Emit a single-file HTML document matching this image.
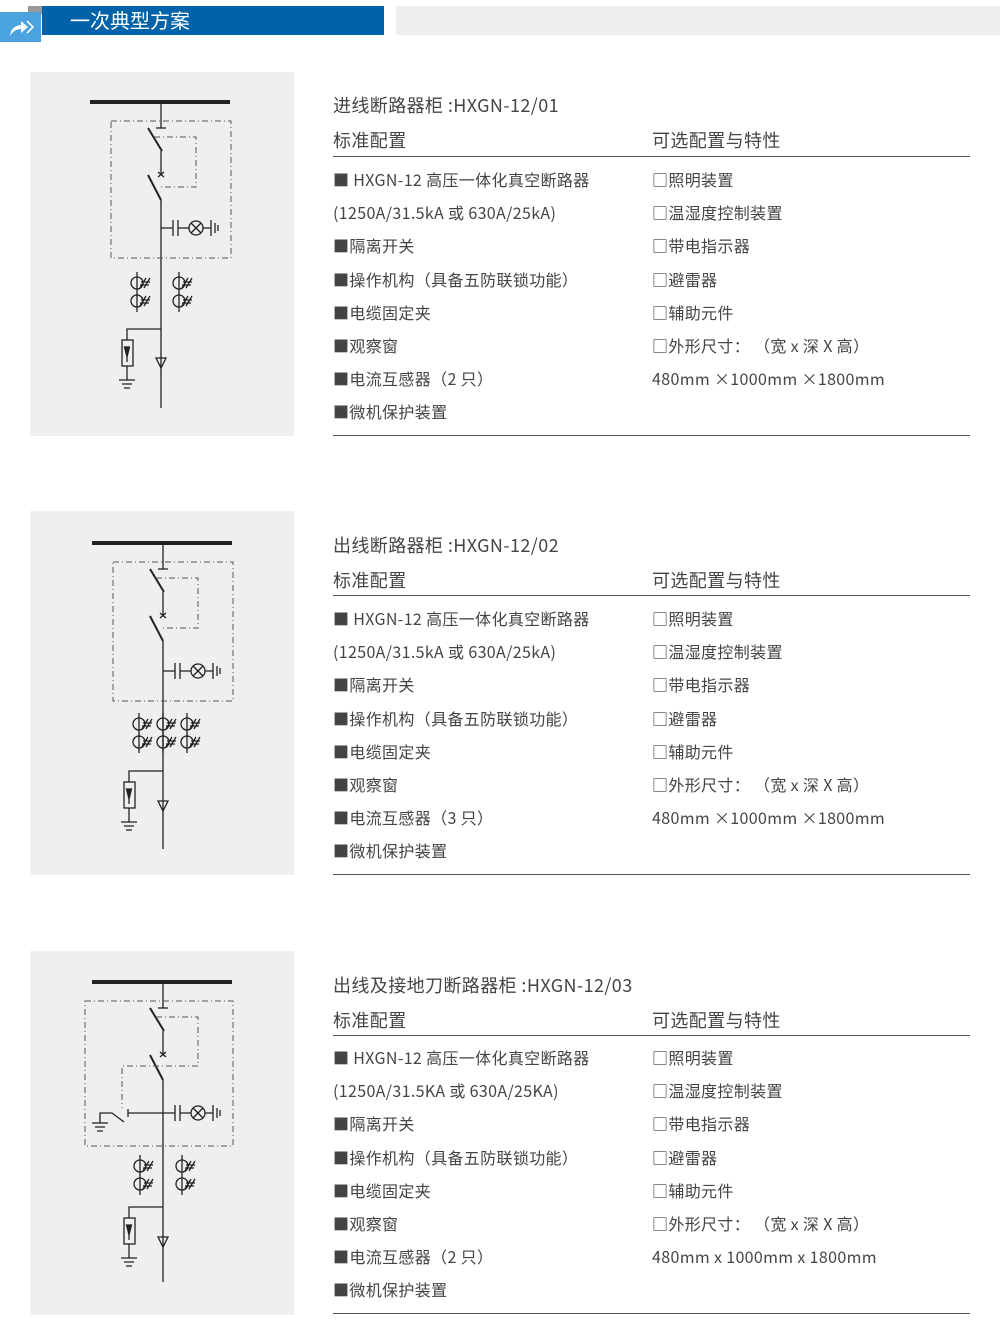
<!DOCTYPE html>
<html><head><meta charset="utf-8">
<style>
body{margin:0;width:1000px;height:1320px;background:#fff;position:relative;overflow:hidden;font-family:"Noto Sans CJK SC","Liberation Sans",sans-serif;color:#444}
.a{position:absolute;white-space:nowrap}
.panel{position:absolute;left:30px;width:264px;height:364px;background:#efefef}
.t{font-size:18px;color:#444;line-height:24px;letter-spacing:0.4px}
.i{font-size:16px;color:#444;letter-spacing:0.35px}
.hl{position:absolute;left:333px;width:637px;height:1px;background:#555}
</style></head><body>
<div class="a" style="left:42px;top:6px;width:342px;height:29px;background:#0062a8"></div>
<div class="a" style="left:28px;top:6px;width:14px;height:8px;background:#9a9a9a"></div>
<div class="a" style="left:0;top:12px;width:41px;height:30px;background:#4aa3df"></div>
<svg class="a" style="left:0;top:12px" width="41" height="30"><path d="M10 24 Q11 14 21 13 L21 9 L28 15 L21 21 L21 17 Q14 17 10 24Z" fill="#fff"/><path d="M27 9 L33 15 L27 21" stroke="#fff" stroke-width="1.6" fill="none"/></svg>
<div class="a" style="left:70px;top:6px;font-size:20px;color:#fff;line-height:28px">一次典型方案</div>
<div class="a" style="left:396px;top:6px;width:604px;height:29px;background:#eeeeee"></div>

<div class="panel" style="top:72px"></div>
<div class="panel" style="top:511px"></div>
<div class="panel" style="top:951px"></div>

<svg class="a" style="left:0;top:0" width="300" height="1320" fill="none" stroke="#222" stroke-width="1.3">
<defs>
<g id="ct"><line x1="0" y1="-11" x2="0" y2="29"/><circle cx="0" cy="0" r="6"/><circle cx="0" cy="18" r="6"/>
<path d="M3 5 L9 -5 M7 5 L13 -5 M4 -1 L13 -1 M3 2 L12 2 M3 23 L9 13 M7 23 L13 13 M4 17 L13 17 M3 20 L12 20"/></g>
<g id="cap"><path d="M0 0 H12 M12 -8 V8 M17 -8 V8 M17 0 H28 M42 0 H50 M50 -8 V8 M54 -5 V5 M57 -3 V3"/><circle cx="35" cy="0" r="7"/><path d="M30 -5 L40 5 M40 -5 L30 5"/></g>
<g id="gnd"><path d="M-8 0 H8 M-5 4 H5 M-3 8 H3"/></g>
<g id="arr"><path d="M0 0 H-34 V11 M-34 37 V51"/><rect x="-39" y="11" width="11" height="26"/><path d="M-36.5 18 H-31.5 L-34 28Z" fill="#222"/><path d="M-34 28 V33"/></g>
<g id="top"><line x1="0" y1="0" x2="0" y2="26"/><line x1="-5" y1="26" x2="5" y2="26"/><line x1="-13" y1="26" x2="1" y2="49" stroke-width="2"/><line x1="0" y1="49" x2="0" y2="72"/><path d="M-3 70 L3 75 M3 70 L-3 75"/><line x1="-13" y1="73" x2="0" y2="98" stroke-width="2"/></g>
</defs>
<g transform="translate(161,102)">
<line x1="-71" y1="0" x2="69" y2="0" stroke-width="4"/>
<use href="#top"/><line x1="0" y1="98" x2="0" y2="306"/>
<g stroke-dasharray="6 3 1 3" stroke="#555" stroke-width="1"><rect x="-50" y="19" width="120" height="137"/><path d="M-7 35 H35 V85 H-1"/></g>
<use href="#cap" transform="translate(0,126)"/>
<use href="#ct" transform="translate(-24,181)"/><use href="#ct" transform="translate(18,181)"/>
<use href="#arr" transform="translate(0,227)"/><use href="#gnd" transform="translate(-34,278)"/>
<path d="M-5 256 H5 L0 266Z"/>
</g>
<g transform="translate(163,543)">
<line x1="-71" y1="0" x2="69" y2="0" stroke-width="4"/>
<use href="#top"/><line x1="0" y1="98" x2="0" y2="306"/>
<g stroke-dasharray="6 3 1 3" stroke="#555" stroke-width="1"><rect x="-50" y="19" width="120" height="139"/><path d="M-7 35 H35 V85 H-1"/></g>
<use href="#cap" transform="translate(0,128)"/>
<use href="#ct" transform="translate(-24,181)"/><use href="#ct" transform="translate(0,181)"/><use href="#ct" transform="translate(24,181)"/>
<use href="#arr" transform="translate(0,228)"/><use href="#gnd" transform="translate(-34,279)"/>
<path d="M-5 258 H5 L0 268Z"/>
</g>
<g transform="translate(163,982)">
<line x1="-71" y1="0" x2="69" y2="0" stroke-width="4"/>
<use href="#top"/><line x1="0" y1="98" x2="0" y2="300"/>
<g stroke-dasharray="6 3 1 3" stroke="#555" stroke-width="1"><rect x="-78" y="19" width="148" height="145"/><path d="M-7 35 H35 V84 H-41 V126"/></g>
<use href="#cap" transform="translate(0,131)"/>
<path d="M0 131 H-35 M-35 127 V135 M-39 140 L-51 131 M-51 131 H-63 V141"/>
<use href="#gnd" transform="translate(-63,141)"/>
<use href="#ct" transform="translate(-23,184)"/><use href="#ct" transform="translate(19,184)"/>
<use href="#arr" transform="translate(0,225)"/><use href="#gnd" transform="translate(-34,276)"/>
<path d="M-5 255 H5 L0 265Z"/>
</g>
</svg>

<div class="a t" style="left:333px;top:93px">进线断路器柜 :HXGN-12/01</div>
<div class="a t" style="left:333px;top:128px">标准配置</div>
<div class="a t" style="left:652px;top:128px">可选配置与特性</div>
<div class="hl" style="top:156px"></div>
<div class="a i" style="left:333px;top:163px;line-height:33.2px">■ HXGN-12 高压一体化真空断路器<br>(1250A/31.5kA 或 630A/25kA)<br>■隔离开关<br>■操作机构（具备五防联锁功能）<br>■电缆固定夹<br>■观察窗<br>■电流互感器（2 只）<br>■微机保护装置</div>
<div class="a i" style="left:652px;top:163px;line-height:33.2px">□照明装置<br>□温湿度控制装置<br>□带电指示器<br>□避雷器<br>□辅助元件<br>□外形尺寸： （宽 x 深 X 高）<br>480mm ×1000mm ×1800mm</div>
<div class="hl" style="top:435px"></div>

<div class="a t" style="left:333px;top:533px">出线断路器柜 :HXGN-12/02</div>
<div class="a t" style="left:333px;top:568px">标准配置</div>
<div class="a t" style="left:652px;top:568px">可选配置与特性</div>
<div class="hl" style="top:595px"></div>
<div class="a i" style="left:333px;top:602px;line-height:33.2px">■ HXGN-12 高压一体化真空断路器<br>(1250A/31.5kA 或 630A/25kA)<br>■隔离开关<br>■操作机构（具备五防联锁功能）<br>■电缆固定夹<br>■观察窗<br>■电流互感器（3 只）<br>■微机保护装置</div>
<div class="a i" style="left:652px;top:602px;line-height:33.2px">□照明装置<br>□温湿度控制装置<br>□带电指示器<br>□避雷器<br>□辅助元件<br>□外形尺寸： （宽 x 深 X 高）<br>480mm ×1000mm ×1800mm</div>
<div class="hl" style="top:874px"></div>

<div class="a t" style="left:333px;top:973px">出线及接地刀断路器柜 :HXGN-12/03</div>
<div class="a t" style="left:333px;top:1008px">标准配置</div>
<div class="a t" style="left:652px;top:1008px">可选配置与特性</div>
<div class="hl" style="top:1035px"></div>
<div class="a i" style="left:333px;top:1041px;line-height:33.2px">■ HXGN-12 高压一体化真空断路器<br>(1250A/31.5KA 或 630A/25KA)<br>■隔离开关<br>■操作机构（具备五防联锁功能）<br>■电缆固定夹<br>■观察窗<br>■电流互感器（2 只）<br>■微机保护装置</div>
<div class="a i" style="left:652px;top:1041px;line-height:33.2px">□照明装置<br>□温湿度控制装置<br>□带电指示器<br>□避雷器<br>□辅助元件<br>□外形尺寸： （宽 x 深 X 高）<br>480mm x 1000mm x 1800mm</div>
<div class="hl" style="top:1313px"></div>
</body></html>
